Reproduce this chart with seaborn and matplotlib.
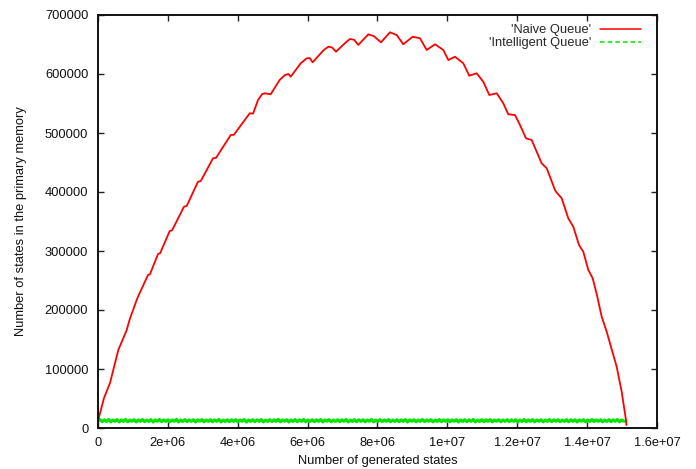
import numpy as np
import pandas as pd
import matplotlib
matplotlib.use("Agg")
import matplotlib.pyplot as plt
from matplotlib.lines import Line2D
import seaborn as sns

# Naive queue: states held in primary memory vs. states generated
naive_generated = [
    0, 171700, 343500, 581000, 821500, 907300, 1107700, 1144900, 1431100,
    1490000, 1717400, 1780000, 2052500, 2120000, 2461500, 2540000, 2862200,
    2940000, 3291600, 3380000, 3798200, 3890000, 4342000, 4440000, 4580000,
    4700000, 4780000, 4943000, 5200000, 5352000, 5450000, 5515000, 5800000,
    5973000, 6060000, 6145000, 6450000, 6592000, 6700000, 6812000, 7100000,
    7213000, 7330000, 7450000, 7737000, 7900000, 8100000, 8358000, 8549000,
    8738000, 9007000, 9216000, 9408000, 9646000, 9883000, 10027000,
    10218000, 10456000, 10627000, 10839000, 11028000, 11200000, 11412000,
    11601000, 11744000, 11935000, 12078000, 12250000, 12413000, 12556000,
    12699000, 12843000, 13080000, 13109000, 13272000, 13461000, 13604000,
    13767000, 13890000, 14034000, 14160000, 14274000, 14417000, 14560000,
    14703000, 14846000, 14989000, 15112000, 15126000,
]
naive_memory = [
    11900, 50800, 76300, 132200, 166100, 184200, 217000, 222500, 259300,
    261000, 294900, 296500, 333900, 335000, 375100, 376500, 417400,
    418500, 457100, 458000, 496600, 497000, 533400, 533000, 555900,
    566000, 567300, 565600, 590000, 598300, 600000, 595400, 618000,
    626600, 627000, 619800, 640000, 646300, 645000, 637800, 654000,
    659300, 658000, 649200, 667300, 664000, 653700, 670700, 666100,
    650400, 663200, 660500, 640700, 650400, 640700, 623700,
    629300, 618100, 597100, 601200, 586900, 564400, 567300,
    550300, 531700, 530500, 513600, 491000, 488100, 468300,
    448600, 440200, 403400, 400500, 389300, 355400, 341200,
    310200, 298800, 267800, 253700, 227100, 188600, 163200,
    133400, 103900, 61500, 13600, 5000,
]

# Intelligent queue: memory stays flat, fluctuating in a narrow band
intelligent_end = 15110000
intelligent_memory = [
    12000, 14200, 10600, 13900, 11000, 14500, 10400, 13600, 11300, 14300,
    10200, 13800, 11100, 14600, 10500, 13500, 11400, 14100, 10300, 13700,
    11200, 14400, 10700, 13400, 11000, 14200, 10100, 13900, 11500, 14500,
    10600, 13600, 11100, 14000, 10400, 13800, 11300, 14700, 10200, 13500,
    11000, 14300, 10800, 13700, 11200, 14100, 10300, 13900, 11400, 14400,
    10500, 13600, 11100, 14200, 10600, 13800, 11300, 14600, 10200, 13500,
    11000, 14000, 10700, 13900, 11200, 14300, 10400, 13700, 11500, 14500,
    10100, 13600, 11100, 14100, 10600, 13800, 11300, 14400, 10300, 13500,
    11000, 14200, 10800, 13900, 11200, 14600, 10500, 13700, 11400, 14000,
    10200, 13600, 11100, 14300, 10700, 13800, 11300, 14500, 10400, 13500,
    11000, 14100, 10600, 13900, 11200, 14400, 10300, 13700, 11500, 14200,
    10500, 13600, 11100, 14000, 10800, 13800, 11300, 14600, 10200, 13500,
    11000, 14300, 10600, 13900, 11200, 14100, 10400, 13700, 11400, 14500,
    10300, 13600, 11100, 14200, 10700, 13800, 11300, 14400, 10500, 13500,
    11000, 14000, 10600, 13900, 11200, 14300, 10200, 13700, 11500, 14100,
    10400, 13600, 11100, 14500, 10800, 13800, 11300, 14200, 10300, 13500,
    11000, 14400, 10600, 13900, 11200, 14000, 10500, 13700, 11400, 14300,
    10100, 13600, 11100, 14100, 10700, 13800, 11300, 14600, 10400, 13500,
    11000, 14200, 10600, 13900, 11200, 14400, 10300, 13700, 11500, 14000,
    10500, 13600, 11100, 14300, 10800, 13800, 11300, 14100, 10200, 13500,
    11000, 14500, 10600, 13900, 11200, 14200, 10400, 13700, 11400, 14000,
    10300, 13600, 11100, 14400, 10700, 13800, 11300, 14100, 10500, 13500,
    11000, 14300, 10600, 13900, 11200, 14000, 10200, 13700, 11500, 14200,
    10400, 13600, 11100, 14500, 10800, 13800, 11300, 14100, 10300, 13500,
    11000, 14200, 10600, 13900, 11200, 14400, 10500, 13700, 11400, 12000,
]

x_ticks = [0, 2e6, 4e6, 6e6, 8e6, 1e7, 1.2e7, 1.4e7, 1.6e7]
x_tick_labels = ["0", "2e+06", "4e+06", "6e+06", "8e+06", "1e+07",
                 "1.2e+07", "1.4e+07", "1.6e+07"]
y_ticks = [0, 100000, 200000, 300000, 400000, 500000, 600000, 700000]
y_tick_labels = [str(v) for v in y_ticks]

naive_label = "'Naive Queue'"
intelligent_label = "'Intelligent Queue'"

sns.set_style("white")
plt.rcParams["font.family"] = ["Liberation Sans", "DejaVu Sans"]

red = "#ff0000"
green = "#00e600"

naive_df = pd.DataFrame({"generated": naive_generated, "memory": naive_memory})
intel_df = pd.DataFrame({
    "generated": np.linspace(0, intelligent_end, len(intelligent_memory)),
    "memory": intelligent_memory,
})

fig = plt.figure(figsize=(6.96, 4.69), dpi=100)
ax = fig.add_axes([98 / 696, 1 - 428 / 469, (657 - 98) / 696, (428 - 15) / 469])

sns.lineplot(data=intel_df, x="generated", y="memory", ax=ax, color=green,
             linewidth=2.2, estimator=None, sort=False)
sns.lineplot(data=naive_df, x="generated", y="memory", ax=ax, color=red,
             linewidth=1.3, estimator=None, sort=False)

ax.set_xlim(0, 1.6e7)
ax.set_ylim(0, 700000)
ax.set_xticks(x_ticks)
ax.set_xticklabels(x_tick_labels)
ax.set_yticks(y_ticks)
ax.set_yticklabels(y_tick_labels)

ax.tick_params(axis="both", which="both", direction="in", length=4.5,
               width=1.0, color="#222222", labelsize=9.3, labelcolor="#111111",
               top=True, right=True, bottom=True, left=True)
ax.tick_params(axis="x", pad=6.5)
ax.tick_params(axis="y", pad=7)

for side in ax.spines.values():
    side.set_visible(True)
    side.set_color("#111111")
    side.set_linewidth(1.4)

ax.set_xlabel("Number of generated states", fontsize=9.3, color="#111111",
              labelpad=4)
ax.set_ylabel("Number of states in the primary memory", fontsize=9.3,
              color="#111111", labelpad=13)

handles = [
    Line2D([], [], color=red, linewidth=1.1),
    Line2D([], [], color=green, linewidth=1.1, linestyle=(0, (3, 2))),
]
ax.legend(handles, [naive_label, intelligent_label], loc="upper right",
          frameon=False, markerfirst=False, fontsize=9.3, handlelength=3.2,
          handletextpad=0.7, labelspacing=0.1, borderaxespad=0.3,
          bbox_to_anchor=(0.988, 1.0))

fig.savefig("out.png", dpi=100)
